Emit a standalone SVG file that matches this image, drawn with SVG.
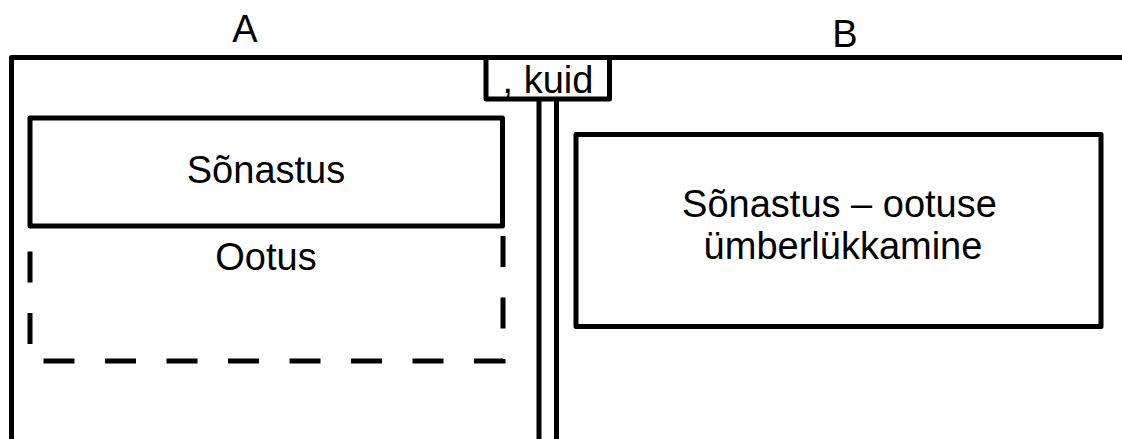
<svg xmlns="http://www.w3.org/2000/svg" width="1122" height="439" viewBox="0 0 1122 439">
  <style>
    .ln { fill: none; stroke: #000; stroke-width: 5; stroke-linejoin: round; }
    .box { fill: #fff; stroke: #000; stroke-width: 5; stroke-linejoin: round; }
    .dash { fill: none; stroke: #000; stroke-width: 5; stroke-dasharray: 31 30.5; }
    .t { font-family: "Liberation Sans", Arial, sans-serif; font-size: 38px; fill: #000; text-anchor: middle; }
  </style>
  <rect width="1122" height="439" fill="#fff"/>
  <g id="connectors">
    <path class="ln" d="M11.5,439 V57.5 H1122"/>
    <line class="ln" x1="539" y1="99" x2="539" y2="439"/>
    <line class="ln" x1="556.5" y1="99" x2="556.5" y2="439"/>
  </g>
  <g id="label-A">
    <text class="t" x="245" y="42">A</text>
  </g>
  <g id="label-B">
    <text class="t" x="845" y="47">B</text>
  </g>
  <g id="kuid">
    <rect class="box" x="486" y="57.5" width="123.5" height="41.5"/>
    <text class="t" x="548" y="93">, kuid</text>
  </g>
  <g id="ootus">
    <path class="dash" d="M503,236 V361 H30 V236"/>
    <text class="t" x="266" y="270">Ootus</text>
  </g>
  <g id="sonastus">
    <rect class="box" x="30" y="118" width="472.5" height="108"/>
    <text class="t" x="266" y="183">Sõnastus</text>
  </g>
  <g id="umberlukkamine">
    <rect class="box" x="576" y="134.5" width="525" height="192"/>
    <text class="t" x="839.5" y="216.5">Sõnastus – ootuse</text>
    <text class="t" x="843" y="259">ümberlükkamine</text>
  </g>
</svg>
